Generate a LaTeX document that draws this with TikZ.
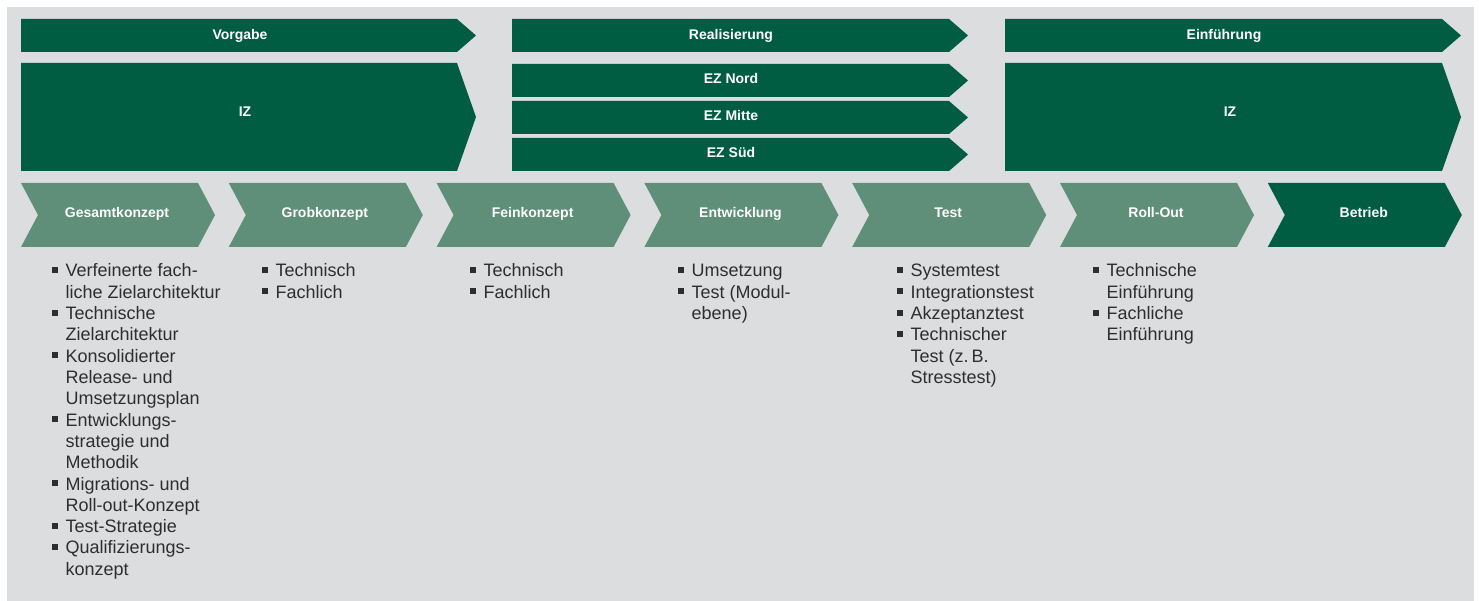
\documentclass[tikz,border=0pt]{standalone}
\usepackage{fontspec}
\setmainfont{Liberation Sans}
\definecolor{dg}{HTML}{005D42}
\definecolor{lg}{HTML}{5F8F78}
\definecolor{bg}{HTML}{DCDDDF}
\definecolor{txt}{HTML}{2E2E2E}
\newcommand\bul{\makebox[13.5pt][l]{\raisebox{4pt}{\rule{6pt}{6pt}}}}
\newcommand\ind{\hspace*{13.5pt}}
\newcommand\pfeilbox[6]{\fill[#1] (#2,#3) -- (#4,#3) -- ({#4+#6},{(#3+#5)/2}) -- (#4,#5) -- (#2,#5) -- cycle;}
\newcommand\chevbox[6]{\fill[#1] (#2,#3) -- (#4,#3) -- ({#4+#6},{(#3+#5)/2}) -- (#4,#5) -- (#2,#5) -- ({#2+#6},{(#3+#5)/2}) -- cycle;}
\tikzset{
  lbl/.style={text=white, font=\fontsize{14}{16}\selectfont\bfseries, anchor=base, inner sep=0pt},
  lst/.style={text=txt, anchor=base west, inner sep=0pt, font=\fontsize{18}{21.3}\selectfont}
}
\begin{document}
\begin{tikzpicture}[x=1pt,y=-1pt]
\useasboundingbox (0,0) rectangle (1479,601);
\fill[white] (0,0) rectangle (1479,601);
\fill[bg] (7,7) rectangle (1474,601);
% top row
\pfeilbox{dg}{21}{19}{457}{52}{19}
\pfeilbox{dg}{512}{19}{949}{52}{19}
\pfeilbox{dg}{1005}{19}{1442}{52}{19}
\node[lbl] (vorgabe) at (240,39.5) {Vorgabe};
\node[lbl] (realisierung) at (731,39.5) {Realisierung};
\node[lbl] (einfuehrung) at (1224,39.5) {Einführung};
% second row
\pfeilbox{dg}{21}{63}{457}{171}{19}
\pfeilbox{dg}{512}{64}{949}{97}{19}
\pfeilbox{dg}{512}{101}{949}{134}{19}
\pfeilbox{dg}{512}{138}{949}{171}{19}
\pfeilbox{dg}{1005}{63}{1442}{171}{19}
\node[lbl] (izl) at (245,116.5) {IZ};
\node[lbl] (eznord) at (731,83.3) {EZ Nord};
\node[lbl] (ezmitte) at (731,121) {EZ Mitte};
\node[lbl] (ezsued) at (731,157.5) {EZ Süd};
\node[lbl] (izr) at (1230,116.5) {IZ};
% phases
\foreach \i/\t/\c in {0/Gesamtkonzept/lg, 1/Grobkonzept/lg, 2/Feinkonzept/lg, 3/Entwicklung/lg, 4/Test/lg, 5/Roll-Out/lg, 6/Betrieb/dg} {
  \pgfmathsetmacro\xa{21+207.8*\i}
  \pgfmathsetmacro\xb{\xa+177}
  \chevbox{\c}{\xa}{183}{\xb}{247}{17}
  \node[lbl] (c\i) at ({\xa+96},218) {\t};
}
% lists
\node[lst] (l0) at (52,277) {\begin{tabular}[t]{@{}l@{}}\bul Verfeinerte fach-\\ \ind liche Zielarchitektur\\ \bul Technische\\ \ind Zielarchitektur\\ \bul Konsolidierter\\ \ind Release- und\\ \ind Umsetzungsplan\\ \bul Entwicklungs-\\ \ind strategie und\\ \ind Methodik\\ \bul Migrations- und\\ \ind Roll-out-Konzept\\ \bul Test-Strategie\\ \bul Qualifizierungs-\\ \ind konzept\end{tabular}};
\node[lst] (l1) at (262,277) {\begin{tabular}[t]{@{}l@{}}\bul Technisch\\ \bul Fachlich\end{tabular}};
\node[lst] (l2) at (470,277) {\begin{tabular}[t]{@{}l@{}}\bul Technisch\\ \bul Fachlich\end{tabular}};
\node[lst] (l3) at (678,277) {\begin{tabular}[t]{@{}l@{}}\bul Umsetzung\\ \bul Test (Modul-\\ \ind ebene)\end{tabular}};
\node[lst] (l4) at (897,277) {\begin{tabular}[t]{@{}l@{}}\bul Systemtest\\ \bul Integrationstest\\ \bul Akzeptanztest\\ \bul Technischer\\ \ind Test (z.\,B.\\ \ind Stresstest)\end{tabular}};
\node[lst] (l5) at (1093,277) {\begin{tabular}[t]{@{}l@{}}\bul Technische\\ \ind Einführung\\ \bul Fachliche\\ \ind Einführung\end{tabular}};
\end{tikzpicture}
\end{document}
